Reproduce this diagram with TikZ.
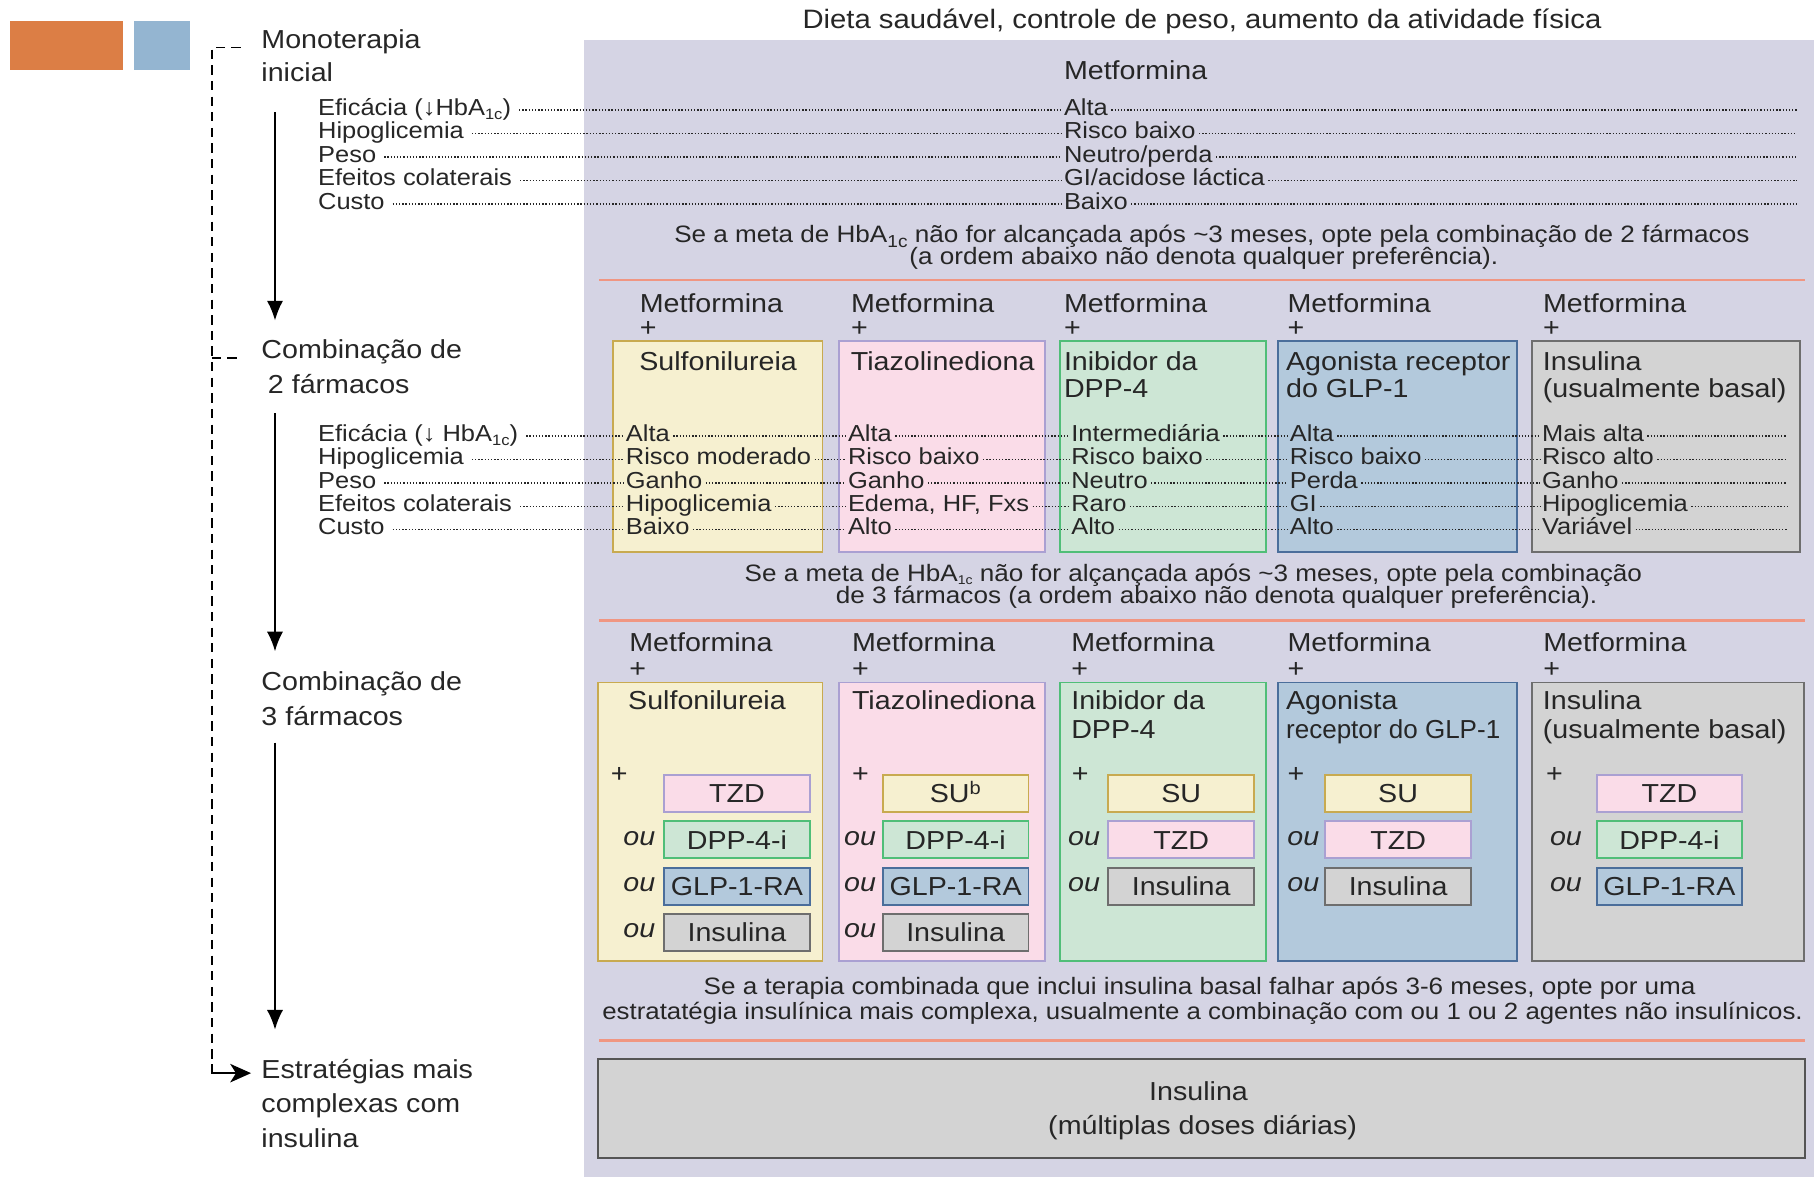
\documentclass[tikz,border=0pt]{standalone}
\usepackage{fontspec}
\setmainfont[FakeStretch=1.1]{Liberation Sans}
\newfontfamily\narrowsans{Liberation Sans}
\usetikzlibrary{arrows.meta}
\definecolor{panel}{HTML}{D5D4E4}
\definecolor{txt}{HTML}{262626}
\definecolor{sep}{HTML}{F09682}
\definecolor{suF}{HTML}{F6F0D0}
\definecolor{suD}{HTML}{C8AA50}
\definecolor{tzF}{HTML}{FADCE8}
\definecolor{tzD}{HTML}{AAA0D2}
\definecolor{dpF}{HTML}{CDE6D5}
\definecolor{dpD}{HTML}{50BE78}
\definecolor{glF}{HTML}{B3C9DC}
\definecolor{glD}{HTML}{4B6E9B}
\definecolor{inF}{HTML}{D3D3D3}
\definecolor{inD}{HTML}{6E6E6E}
\definecolor{finD}{HTML}{555555}
\definecolor{orangeblk}{HTML}{DC7E45}
\definecolor{blueblk}{HTML}{94B5D1}
\newcommand{\fsT}{\fontsize{23}{25}\selectfont}
\newcommand{\fsA}{\fontsize{22.5}{25}\selectfont}
\newcommand{\fsB}{\fontsize{20}{21}\selectfont}
\newcommand{\fsN}{\fontsize{20.5}{21}\selectfont}
\newcommand{\fsNs}{\fontsize{20.3}{21}\selectfont}
\newcommand{\sbs}[1]{\raisebox{-3.5pt}{\fontsize{13}{13}\selectfont #1}}
\newcommand{\sbsL}[1]{\raisebox{-4pt}{\fontsize{15}{15}\selectfont #1}}
\newcommand{\sbsS}[1]{\raisebox{-2.5pt}{\fontsize{11}{11}\selectfont #1}}
\begin{document}
\begin{tikzpicture}[x=1pt,y=-1pt,
  every node/.style={inner sep=0pt, outer sep=0pt, text=txt},
  lbl/.style={font=\fsA, anchor=base west},
  ctr/.style={font=\fsA, anchor=base},
  row/.style={font=\fsB, anchor=base west},
  note/.style={font=\fsN, anchor=base},
  dots/.style={draw=txt, line width=1.15pt, dash pattern=on 1.15pt off 1.6pt},
  drug/.style 2 args={draw=#2, fill=#1, line width=1.6pt, anchor=north west},
  subbox/.style 2 args={draw=#2, fill=#1, line width=1.7pt, minimum width=126pt, minimum height=32pt, font=\fsA, text height=16pt, text depth=0pt},
  ouT/.style={font=\fsA\itshape, anchor=base},
  sepline/.style={draw=sep, line width=2.5pt},
  flow/.style={draw=black, line width=1.6pt, -{Latex[length=17pt,width=14pt]}},
  bracket/.style={draw=black, line width=1.5pt, dash pattern=on 8pt off 5.5pt}
]
\useasboundingbox (0,0) rectangle (1568,1017);

% colour blocks
\node (sqO) [fill=orangeblk, minimum width=97.7pt, minimum height=42.3pt, anchor=north west] at (8.6,18.2) {};
\node (sqB) [fill=blueblk, minimum width=48.4pt, minimum height=42.3pt, anchor=north west] at (115.8,18.2) {};

% panel
\node (panel) [fill=panel, minimum width=1063pt, minimum height=982pt, anchor=north west] at (505,35) {};
\node (title) [font=\fsT, anchor=base] at (1039,24.5) {Dieta saudável, controle de peso, aumento da atividade física};

% left stage labels
\node (mono1) [lbl] at (226,41.5) {Monoterapia};
\node (mono2) [lbl] at (226,70.5) {inicial};
\node (c2a) [lbl] at (226,309.7) {Combinação de};
\node (c2b) [lbl] at (231.6,340) {2 fármacos};
\node (c3a) [lbl] at (226,596.5) {Combinação de};
\node (c3b) [lbl] at (226,626.7) {3 fármacos};
\node (est1) [lbl] at (226,932) {Estratégias mais};
\node (est2) [lbl] at (226,962) {complexas com};
\node (est3) [lbl] at (226,992) {insulina};

% flow arrows
\coordinate (a1s) at (237.7,97);
\coordinate (a1e) at (237.7,277);
\coordinate (a2s) at (237.7,357);
\coordinate (a2e) at (237.7,563);
\coordinate (a3s) at (237.7,642);
\coordinate (a3e) at (237.7,890);
\draw[flow] (a1s) -- (a1e);
\draw[flow] (a2s) -- (a2e);
\draw[flow] (a3s) -- (a3e);

% dashed bracket
\coordinate (bt) at (208,41);
\coordinate (bc) at (183,41);
\coordinate (bb) at (183,920);
\coordinate (bk) at (186,927.6);
\coordinate (be) at (217,927.6);
\coordinate (bm1) at (183,309.5);
\coordinate (bm2) at (208,309.5);
\draw[bracket] (bt) -- (bc) -- (bb);
\draw[bracket] (bm1) -- (bm2);
\draw[line width=1.5pt] (bb) |- (bk);
\draw[line width=1.5pt, -{Stealth[length=18pt,width=16pt,inset=5pt]}] (bk) -- (be);

% ---------- monotherapy block ----------
\node (m1) [lbl] at (919.7,69) {Metformina};
\node (L1a) [row] at (275,99.5) {Eficácia (↓HbA\sbs{1c})};
\node (L1b) [row] at (275,119.8) {Hipoglicemia};
\node (L1c) [row] at (275,140.1) {Peso};
\node (L1d) [row] at (275,160.4) {Efeitos colaterais};
\node (L1e) [row] at (275,180.7) {Custo};
\node (V1a) [row] at (919.7,99.5) {Alta};
\node (V1b) [row] at (919.7,119.8) {Risco baixo};
\node (V1c) [row] at (919.7,140.1) {Neutro/perda};
\node (V1d) [row] at (919.7,160.4) {GI/acidose láctica};
\node (V1e) [row] at (919.7,180.7) {Baixo};
\coordinate (E1a) at (1553,95);
\coordinate (E1b) at (1553,115.3);
\coordinate (E1c) at (1553,135.6);
\coordinate (E1d) at (1553,155.9);
\coordinate (E1e) at (1553,176.2);
\foreach \r in {a,b,c,d,e}{
  \draw[dots] ([xshift=7pt,yshift=4.5pt]L1\r.base east) -- ([xshift=-2pt,yshift=4.5pt]V1\r.base west);
  \draw[dots] ([xshift=3pt,yshift=4.5pt]V1\r.base east) -- (E1\r);
}
\node (n1a) [note] at (1047.5,210) {Se a meta de HbA\sbsL{1c} não for alcançada após \textasciitilde3 meses, opte pela combinação de 2 fármacos};
\node (n1b) [note] at (1040.6,229) {(a ordem abaixo não denota qualquer preferência).};
\coordinate (s1l) at (518,242);
\coordinate (s1r) at (1560,242);
\draw[sepline] (s1l) -- (s1r);

% ---------- two-drug block ----------
\node (b2su) [drug={suF}{suD}, minimum width=181pt, minimum height=183pt] at (530,294.5) {};
\node (b2tz) [drug={tzF}{tzD}, minimum width=178pt, minimum height=183pt] at (725,294.5) {};
\node (b2dp) [drug={dpF}{dpD}, minimum width=178pt, minimum height=183pt] at (916,294.5) {};
\node (b2gl) [drug={glF}{glD}, minimum width=206pt, minimum height=183pt] at (1105,294.5) {};
\node (b2in) [drug={inF}{inD}, minimum width=232pt, minimum height=183pt] at (1324,294.5) {};

\node (M2a) [lbl] at (553,270) {Metformina};
\node (M2b) [lbl] at (735.6,270) {Metformina};
\node (M2c) [lbl] at (919.7,270) {Metformina};
\node (M2d) [lbl] at (1113,270) {Metformina};
\node (M2e) [lbl] at (1333.8,270) {Metformina};
\node (P2a) [lbl] at (553,290.7) {+};
\node (P2b) [lbl] at (735.6,290.7) {+};
\node (P2c) [lbl] at (919.7,290.7) {+};
\node (P2d) [lbl] at (1113,290.7) {+};
\node (P2e) [lbl] at (1333.8,290.7) {+};

\node (T2a) [lbl] at (552.6,320) {Sulfonilureia};
\node (T2b) [lbl] at (735.5,320) {Tiazolinediona};
\node (T2c1) [lbl] at (919.7,320) {Inibidor da};
\node (T2c2) [lbl] at (919.7,344) {DPP-4};
\node (T2d1) [lbl] at (1111.7,320) {Agonista receptor};
\node (T2d2) [lbl] at (1111.7,344) {do GLP-1};
\node (T2e1) [lbl] at (1333.7,320) {Insulina};
\node (T2e2) [lbl] at (1333.7,344) {(usualmente basal)};

\node (L2a) [row] at (275,381.5) {Eficácia (↓ HbA\sbs{1c})};
\node (L2b) [row] at (275,401.7) {Hipoglicemia};
\node (L2c) [row] at (275,421.9) {Peso};
\node (L2d) [row] at (275,442.1) {Efeitos colaterais};
\node (L2e) [row] at (275,462.3) {Custo};

\node (sua) [row] at (541,381.5) {Alta};
\node (sub) [row] at (541,401.7) {Risco moderado};
\node (suc) [row] at (541,421.9) {Ganho};
\node (sud) [row] at (541,442.1) {Hipoglicemia};
\node (sue) [row] at (541,462.3) {Baixo};
\node (tza) [row] at (733,381.5) {Alta};
\node (tzb) [row] at (733,401.7) {Risco baixo};
\node (tzc) [row] at (733,421.9) {Ganho};
\node (tzd) [row] at (733,442.1) {Edema, HF, Fxs};
\node (tze) [row] at (733,462.3) {Alto};
\node (dpa) [row] at (926,381.5) {Intermediária};
\node (dpb) [row] at (926,401.7) {Risco baixo};
\node (dpc) [row] at (926,421.9) {Neutro};
\node (dpd) [row] at (926,442.1) {Raro};
\node (dpe) [row] at (926,462.3) {Alto};
\node (gla) [row] at (1115,381.5) {Alta};
\node (glb) [row] at (1115,401.7) {Risco baixo};
\node (glc) [row] at (1115,421.9) {Perda};
\node (gld) [row] at (1115,442.1) {GI};
\node (gle) [row] at (1115,462.3) {Alto};
\node (ina) [row] at (1333,381.5) {Mais alta};
\node (inb) [row] at (1333,401.7) {Risco alto};
\node (inc) [row] at (1333,421.9) {Ganho};
\node (ind) [row] at (1333,442.1) {Hipoglicemia};
\node (ine) [row] at (1333,462.3) {Variável};
\coordinate (E2a) at (1545,377);
\coordinate (E2b) at (1545,397.2);
\coordinate (E2c) at (1545,417.4);
\coordinate (E2d) at (1545,437.6);
\coordinate (E2e) at (1545,457.8);
\foreach \r in {a,b,c,d,e}{
  \draw[dots] ([xshift=7pt,yshift=4.5pt]L2\r.base east) -- ([xshift=-2pt,yshift=4.5pt]su\r.base west);
  \draw[dots] ([xshift=3pt,yshift=4.5pt]su\r.base east) -- ([xshift=-2pt,yshift=4.5pt]tz\r.base west);
  \draw[dots] ([xshift=3pt,yshift=4.5pt]tz\r.base east) -- ([xshift=-2pt,yshift=4.5pt]dp\r.base west);
  \draw[dots] ([xshift=3pt,yshift=4.5pt]dp\r.base east) -- ([xshift=-2pt,yshift=4.5pt]gl\r.base west);
  \draw[dots] ([xshift=3pt,yshift=4.5pt]gl\r.base east) -- ([xshift=-2pt,yshift=4.5pt]in\r.base west);
  \draw[dots] ([xshift=3pt,yshift=4.5pt]in\r.base east) -- (E2\r);
}

\node (n2a) [note] at (1031.5,502.5) {Se a meta de HbA\sbsS{1c} não for alçançada após \textasciitilde3 meses, opte pela combinação};
\node (n2b) [note] at (1051.5,522) {de 3 fármacos (a ordem abaixo não denota qualquer preferência).};
\coordinate (s2l) at (518,536.5);
\coordinate (s2r) at (1560,536.5);
\draw[sepline] (s2l) -- (s2r);

% ---------- three-drug block ----------
\node (b3su) [drug={suF}{suD}, minimum width=194pt, minimum height=241pt] at (517,590) {};
\node (b3tz) [drug={tzF}{tzD}, minimum width=178pt, minimum height=241pt] at (725,590) {};
\node (b3dp) [drug={dpF}{dpD}, minimum width=178pt, minimum height=241pt] at (916,590) {};
\node (b3gl) [drug={glF}{glD}, minimum width=206pt, minimum height=241pt] at (1105,590) {};
\node (b3in) [drug={inF}{inD}, minimum width=235pt, minimum height=241pt] at (1324,590) {};

\node (M3a) [lbl] at (544,563) {Metformina};
\node (M3b) [lbl] at (736.5,563) {Metformina};
\node (M3c) [lbl] at (926,563) {Metformina};
\node (M3d) [lbl] at (1113,563) {Metformina};
\node (M3e) [lbl] at (1334,563) {Metformina};
\node (P3a) [lbl] at (544,585.5) {+};
\node (P3b) [lbl] at (736.5,585.5) {+};
\node (P3c) [lbl] at (926,585.5) {+};
\node (P3d) [lbl] at (1113,585.5) {+};
\node (P3e) [lbl] at (1334,585.5) {+};

\node (T3a) [lbl] at (543,613.7) {Sulfonilureia};
\node (T3b) [lbl] at (736.5,613.7) {Tiazolinediona};
\node (T3c1) [lbl] at (926,613.7) {Inibidor da};
\node (T3c2) [lbl] at (926,638.5) {DPP-4};
\node (T3d1) [lbl] at (1111.7,613.7) {Agonista};
\node (T3d2) [lbl] at (1111.7,638.5) {\narrowsans receptor do GLP-1};
\node (T3e1) [lbl] at (1333.7,613.7) {Insulina};
\node (T3e2) [lbl] at (1333.7,638.5) {(usualmente basal)};

\node (Q3a) [lbl] at (528,676.4) {+};
\node (Q3b) [lbl] at (736.5,676.4) {+};
\node (Q3c) [lbl] at (926.6,676.4) {+};
\node (Q3d) [lbl] at (1113,676.4) {+};
\node (Q3e) [lbl] at (1336.5,676.4) {+};

% sub boxes column 1
\node (x1a) [subbox={tzF}{tzD}] at (637,686) {TZD};
\node (x1b) [subbox={dpF}{dpD}] at (637,726) {DPP-4-i};
\node (x1c) [subbox={glF}{glD}] at (637,766) {GLP-1-RA};
\node (x1d) [subbox={inF}{inD}] at (637,806) {Insulina};
% column 2
\node (x2a) [subbox={suF}{suD}] at (826,686) {SU\textsuperscript{b}};
\node (x2b) [subbox={dpF}{dpD}] at (826,726) {DPP-4-i};
\node (x2c) [subbox={glF}{glD}] at (826,766) {GLP-1-RA};
\node (x2d) [subbox={inF}{inD}] at (826,806) {Insulina};
% column 3
\node (x3a) [subbox={suF}{suD}] at (1021,686) {SU};
\node (x3b) [subbox={tzF}{tzD}] at (1021,726) {TZD};
\node (x3c) [subbox={inF}{inD}] at (1021,766) {Insulina};
% column 4
\node (x4a) [subbox={suF}{suD}] at (1208.5,686) {SU};
\node (x4b) [subbox={tzF}{tzD}] at (1208.5,726) {TZD};
\node (x4c) [subbox={inF}{inD}] at (1208.5,766) {Insulina};
% column 5
\node (x5a) [subbox={tzF}{tzD}] at (1443,686) {TZD};
\node (x5b) [subbox={dpF}{dpD}] at (1443,726) {DPP-4-i};
\node (x5c) [subbox={glF}{glD}] at (1443,766) {GLP-1-RA};

% "ou"
\node (o1b) [ouT] at (552.6,730.4) {ou};
\node (o1c) [ouT] at (552.6,770.4) {ou};
\node (o1d) [ouT] at (552.6,810.4) {ou};
\node (o2b) [ouT] at (743.5,730.4) {ou};
\node (o2c) [ouT] at (743.5,770.4) {ou};
\node (o2d) [ouT] at (743.5,810.4) {ou};
\node (o3b) [ouT] at (937,730.4) {ou};
\node (o3c) [ouT] at (937,770.4) {ou};
\node (o4b) [ouT] at (1126.6,730.4) {ou};
\node (o4c) [ouT] at (1126.6,770.4) {ou};
\node (o5b) [ouT] at (1353.6,730.4) {ou};
\node (o5c) [ouT] at (1353.6,770.4) {ou};

\node (n3a) [note] at (1037,860) {Se a terapia combinada que inclui insulina basal falhar após 3-6 meses, opte por uma};
\node (n3b) [note, font=\fsNs] at (1039.5,881) {estratatégia insulínica mais complexa, usualmente a combinação com ou 1 ou 2 agentes não insulínicos.};
\coordinate (s3l) at (518,899.5);
\coordinate (s3r) at (1560,899.5);
\draw[sepline] (s3l) -- (s3r);

% final box
\node (fin) [draw=finD, fill=inF, line width=2pt, minimum width=1043pt, minimum height=85.5pt, anchor=north west] at (517,915.5) {};
\node (fin1) [ctr] at (1036,951) {Insulina};
\node (fin2) [ctr] at (1039.5,981) {(múltiplas doses diárias)};
\end{tikzpicture}
\end{document}
